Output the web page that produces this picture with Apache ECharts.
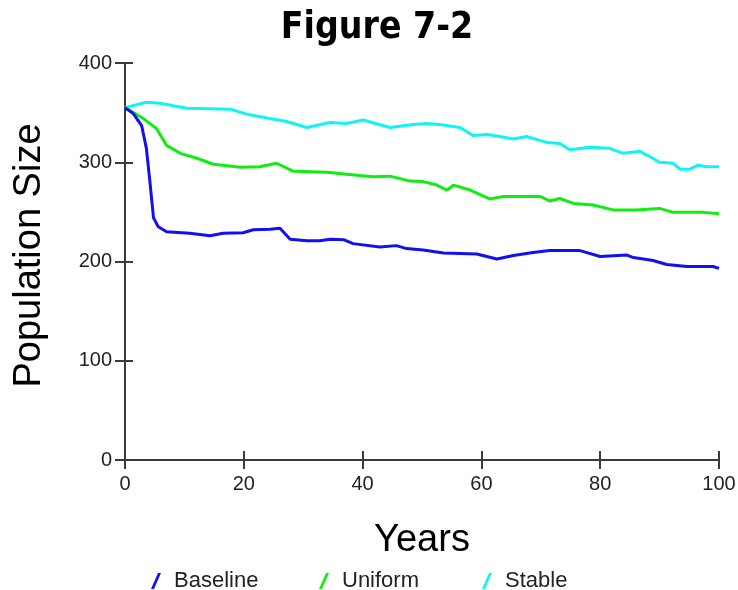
<!DOCTYPE html>
<html>
<head>
<meta charset="utf-8">
<title>Figure 7-2</title>
<script src="https://cdn.jsdelivr.net/npm/echarts@6/dist/echarts.min.js"></script>
<style>
  html, body { margin: 0; padding: 0; background: #fff; }
  #main { width: 738px; height: 590px; }
</style>
</head>
<body>
<div id="main"></div>
<script>
// population size, [year] and [value] per scenario
var baselineYears = [0, 1.4, 2.8, 3.6, 4.2, 4.8, 5.6, 7, 10.9, 14.3, 16.5, 19.9, 21.6, 24.4, 26.1, 27.8, 30.6, 32.8, 34.5, 36.8, 38.4, 42.9, 45.7, 47.4, 50.2, 53.6, 59.2, 62.6, 65.4, 68.7, 71.5, 76.6, 80, 84.5, 85.6, 88.9, 91.2, 94.6, 99, 100];
var baselineVals  = [355, 349, 337, 314, 280, 244, 235, 230, 228.5, 226, 228.5, 229, 232, 232.5, 233.5, 222.5, 221, 221, 222.5, 222, 218, 214.5, 216, 213, 211.5, 208.5, 207.5, 202.5, 206, 209, 211, 211, 205, 206.5, 204, 201, 197, 195, 195, 193];

var uniformYears = [0, 3.1, 5.3, 7, 9.3, 12.1, 14.9, 19.4, 22.7, 25.5, 28.3, 34, 37.3, 41.8, 44.6, 48, 50.2, 52.5, 54.2, 55.3, 58.1, 61.4, 63.7, 66.5, 69.9, 71.5, 73.2, 75.5, 78.8, 82.2, 86.1, 90, 92.3, 97.4, 100];
var uniformVals  = [355, 344, 334, 317, 309, 304, 298, 295, 295.5, 299, 291, 290, 288, 285.5, 286, 281, 280.5, 277, 272, 277, 272, 263, 265.5, 265.5, 265.5, 261, 263.5, 258.5, 257, 252, 252, 253.5, 249.5, 249.5, 248];

var stableYears = [0, 3.6, 5.9, 10.4, 17.7, 20.5, 23.9, 27.2, 30.6, 34.5, 37.3, 40.1, 44.6, 48.5, 50.8, 53, 56.4, 58.6, 60.9, 63.1, 65.4, 67.6, 71, 73.2, 74.9, 78.3, 81.6, 83.9, 86.7, 88.4, 90, 92.3, 93.4, 95.1, 96.5, 97.9, 100];
var stableVals  = [355, 360.5, 359.5, 354.5, 353.5, 348.5, 344.5, 341, 335, 340, 339, 342.5, 335, 338, 339, 338, 335, 327, 328, 326, 323.5, 326, 320, 319, 312.5, 315, 314, 309, 311, 305.5, 300, 299, 293, 293, 297, 295.5, 295.5];

var seriesNames = ['Baseline', 'Uniform', 'Stable'];
var seriesColors = ['#1010f0', '#10ee10', '#10f4f4'];

function pairs(xs, ys) {
    return xs.map(function (x, i) { return [x, ys[i]]; });
}

var lists = [
    pairs(baselineYears, baselineVals),
    pairs(uniformYears, uniformVals),
    pairs(stableYears, stableVals)
];

// slanted stroke used as legend symbol
var slash = 'path://M0,16 L3,16 L10,0 L7,0 Z';
var legendLeft = [146, 314, 477];
var axisColor = '#3a3a3a';
var tickFont = { fontFamily: 'Liberation Sans', fontSize: 20, color: '#222' };

var option = {
    backgroundColor: '#fff',
    animation: false,
    title: {
        text: 'Figure 7-2',
        left: 372,
        textAlign: 'center',
        top: 5,
        textStyle: {
            fontFamily: 'DejaVu Sans Condensed',
            fontWeight: 'bold',
            fontSize: 37,
            color: '#000'
        }
    },
    legend: seriesNames.map(function (n, i) {
        return {
            data: [{ name: n, icon: slash }],
            left: legendLeft[i],
            top: 565,
            itemWidth: 10,
            itemHeight: 16,
            itemGap: 0,
            selectedMode: false,
            textStyle: { fontFamily: 'Liberation Sans', fontSize: 22, color: '#222', padding: [0, 0, 0, 8] }
        };
    }),
    grid: { left: 125, right: 19, top: 63, bottom: 130, outerBoundsMode: 'none', containLabel: false },
    xAxis: [{
        type: 'value',
        min: 0, max: 100, interval: 20,
        name: 'Years',
        nameLocation: 'middle',
        nameGap: 62,
        nameTextStyle: { fontFamily: 'Liberation Sans', fontSize: 38, color: '#000' },
        axisLine: { show: true, lineStyle: { color: axisColor, width: 2 } },
        axisTick: { show: true, length: 9, lineStyle: { color: axisColor, width: 2 } },
        axisLabel: Object.assign({ margin: 14 }, tickFont),
        splitLine: { show: false }
    }, {
        type: 'value',
        position: 'bottom',
        min: 0, max: 100, interval: 20,
        axisLine: { show: false },
        axisTick: { show: true, inside: true, length: 9, lineStyle: { color: axisColor, width: 2 } },
        axisLabel: { show: false },
        splitLine: { show: false }
    }],
    yAxis: [{
        type: 'value',
        min: 0, max: 400, interval: 100,
        name: 'Population Size',
        nameLocation: 'middle',
        nameGap: 76,
        nameRotate: 90,
        nameTextStyle: { fontFamily: 'Liberation Sans', fontSize: 38, color: '#000', padding: [0, 0, 0, 12] },
        axisLine: { show: true, lineStyle: { color: axisColor, width: 2 } },
        axisTick: { show: true, length: 10, lineStyle: { color: axisColor, width: 2 } },
        axisLabel: Object.assign({ margin: 13 }, tickFont),
        splitLine: { show: false }
    }, {
        type: 'value',
        position: 'left',
        min: 0, max: 400, interval: 100,
        axisLine: { show: false },
        axisTick: { show: true, inside: true, length: 8, lineStyle: { color: axisColor, width: 2 } },
        axisLabel: { show: false },
        splitLine: { show: false }
    }],
    series: lists.map(function (d, i) {
        return {
            name: seriesNames[i],
            type: 'line',
            data: d,
            showSymbol: false,
            color: seriesColors[i],
            lineStyle: { width: 3, color: seriesColors[i] },
            z: 3 - i
        };
    })
};

var myChart = echarts.init(document.getElementById('main'));
myChart.setOption(option);
</script>
</body>
</html>
